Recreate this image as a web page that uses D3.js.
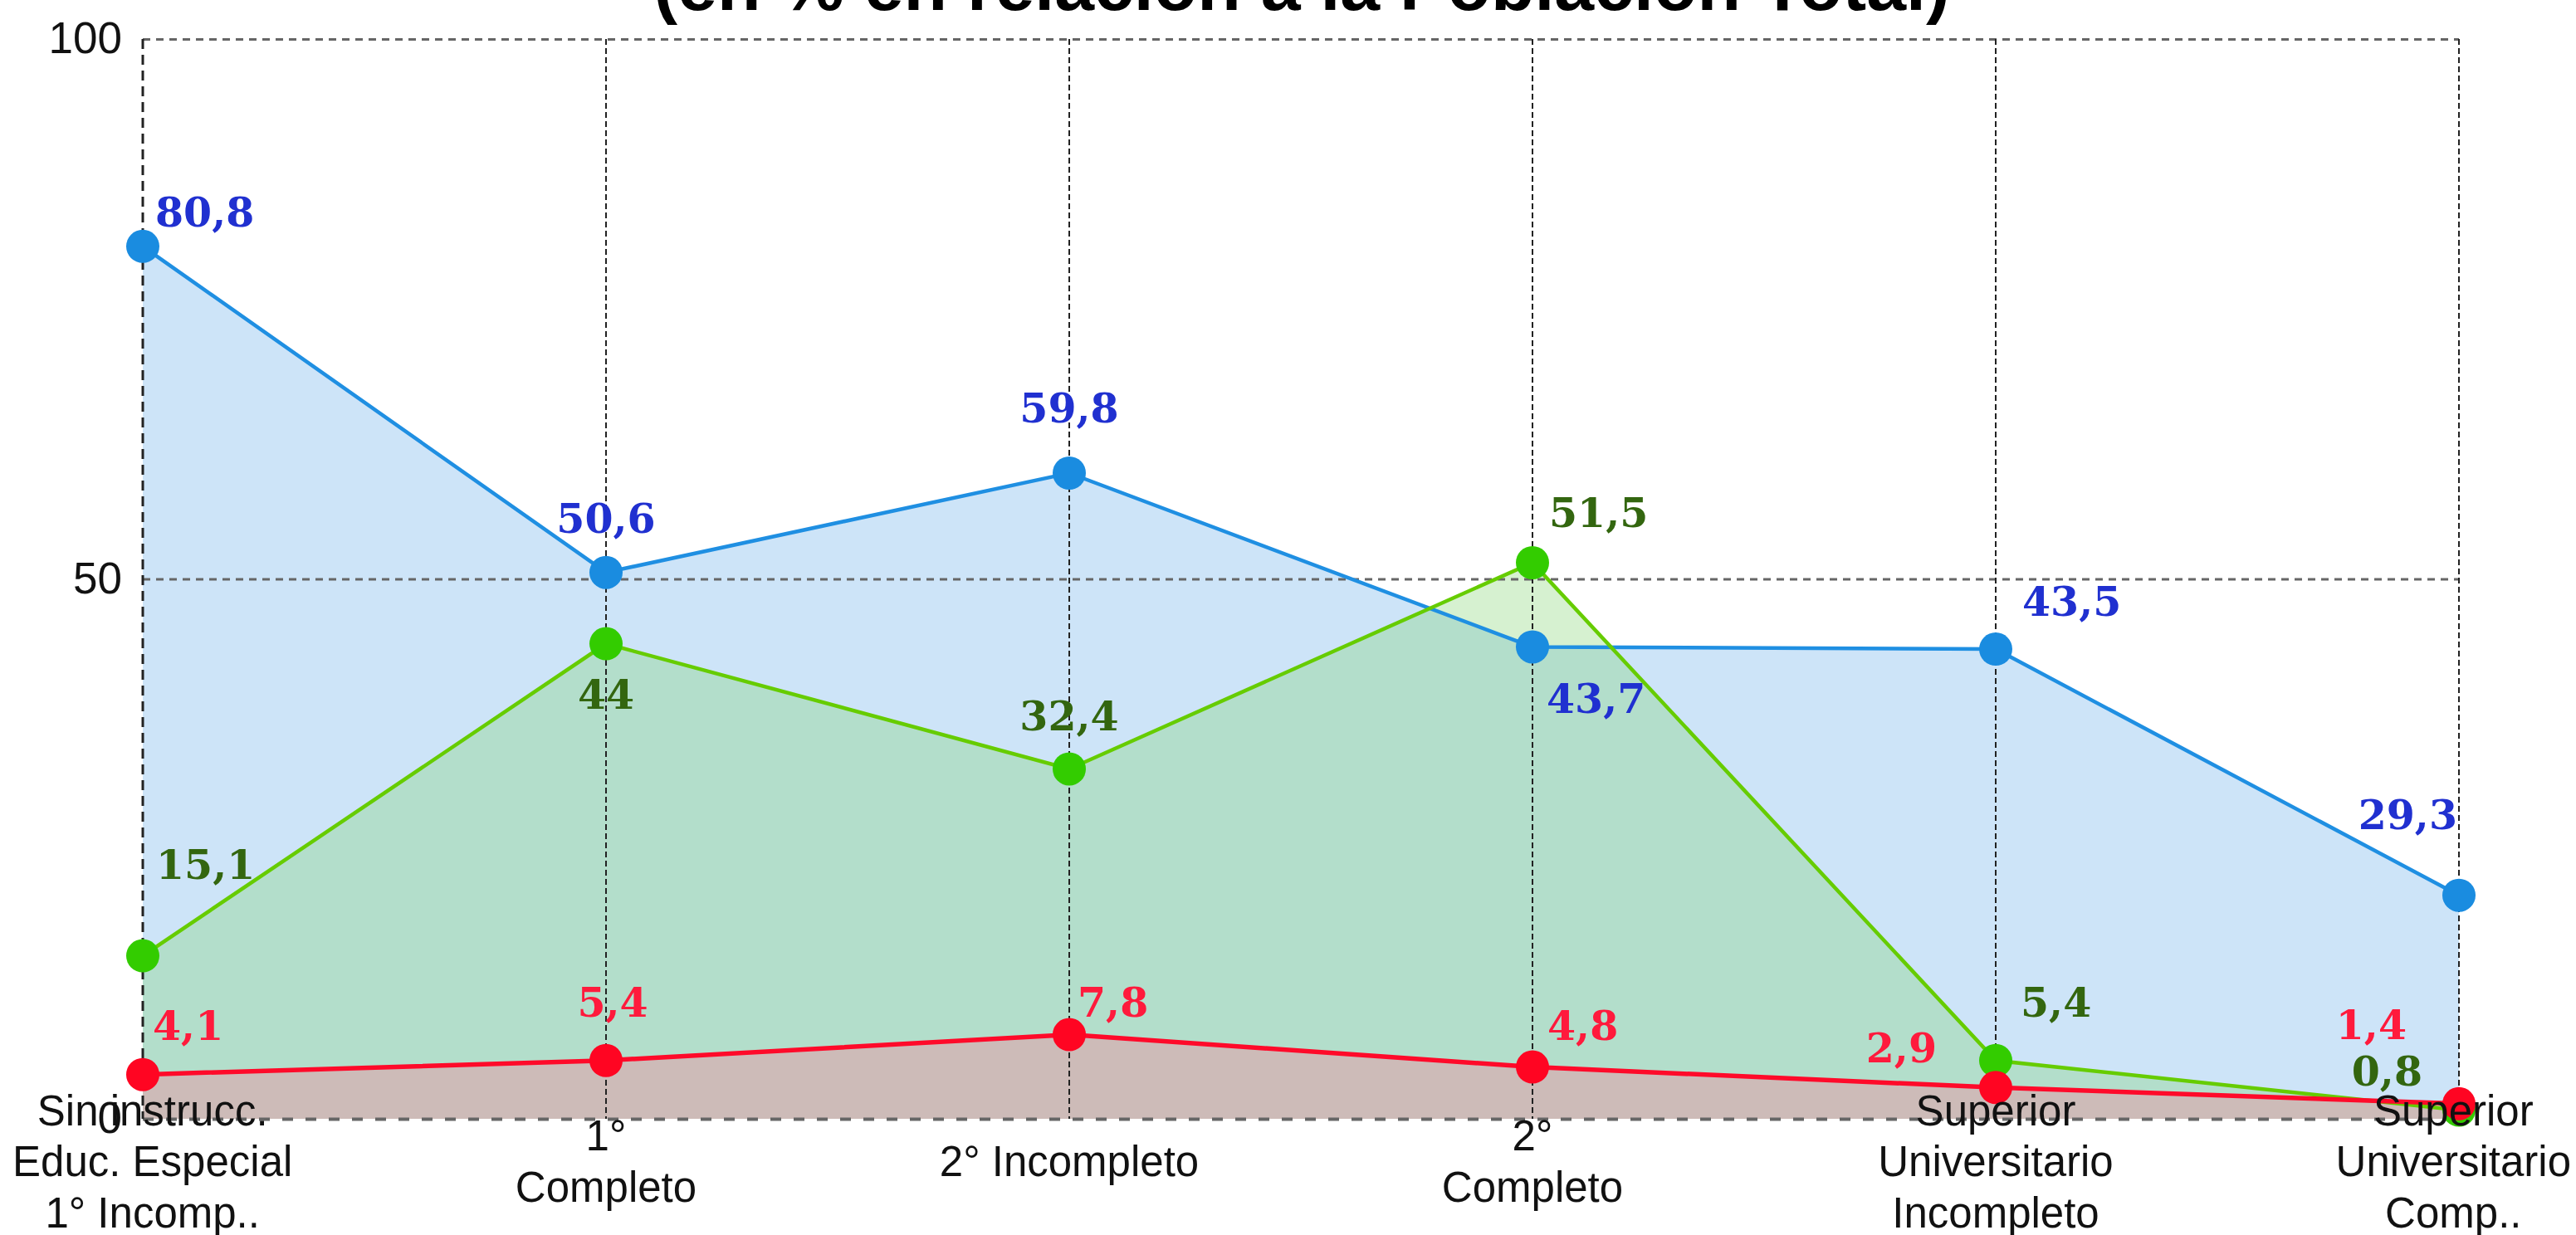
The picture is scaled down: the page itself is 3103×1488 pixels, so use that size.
<!DOCTYPE html>
<html>
<head>
<meta charset="utf-8">
<script src="https://cdn.jsdelivr.net/npm/d3@7/dist/d3.min.js"></script>
<style>
  html, body { margin: 0; padding: 0; background: #fff; }
  svg { display: block; }
  .tick-lbl { font-family: "Liberation Sans", Arial, sans-serif; font-size: 51px; fill: #111; }
  .val-lbl { font-family: "DejaVu Serif", serif; font-size: 49px; font-weight: bold; }
</style>
</head>
<body>
<div id="chart"></div>
<script>
// categories (lines of each x label)
var categories = ["sin", "p1c", "s2i", "s2c", "sui", "suc"];
var categoryLabels = [
    ["Sin instrucc.", "Educ. Especial", "1° Incomp.."],
    ["1°", "Completo"],
    ["2° Incompleto"],
    ["2°", "Completo"],
    ["Superior", "Universitario", "Incompleto"],
    ["Superior", "Universitario", "Comp.."]
];
// series values as plotted, and the texts printed next to them
var blueValues  = [80.8, 50.6, 59.8, 43.7, 43.5, 20.7];
var blueLabels  = ["80,8", "50,6", "59,8", "43,7", "43,5", "29,3"];
var greenValues = [15.1, 44, 32.4, 51.5, 5.4, 0.8];
var greenLabels = ["15,1", "44", "32,4", "51,5", "5,4", "0,8"];
var redValues   = [4.1, 5.4, 7.8, 4.8, 2.9, 1.4];
var redLabels   = ["4,1", "5,4", "7,8", "4,8", "2,9", "1,4"];
var yTicks = [0, 50, 100];
var title = "(en % en relación a la Población Total)";

// label placement relative to each point [dx, dy, anchor]
var bluePlace  = [[15,-24,"start"],[0,-48,"middle"],[0,-61,"middle"],[17,80,"start"],[32,-40,"start"],[-2,-80,"end"]];
var greenPlace = [[16,-93,"start"],[0,78,"middle"],[0,-46,"middle"],[20,-43,"start"],[30,-53,"start"],[-44,-30,"end"]];
var redPlace   = [[12,-42,"start"],[8,-53,"middle"],[10,-22,"start"],[18,-33,"start"],[-71,-30,"end"],[-63,-78,"end"]];

var W = 3103, H = 1488;
var mLeft = 172, mRight = 2962, mTop = 47, mBottom = 1348;

var svg = d3.select("#chart").append("svg").attr("width", W).attr("height", H);

var x = d3.scalePoint().domain(categories).range([mLeft, mRight]);
var y = d3.scaleLinear().domain([0, 100]).range([mBottom, mTop]);

// title, mostly cut off at the top
svg.append("text")
    .attr("x", 1568).attr("y", 12)
    .attr("text-anchor", "middle")
    .style("font-family", "'Liberation Sans', Arial, sans-serif")
    .style("font-weight", "bold")
    .style("font-size", "86px")
    .attr("fill", "#000")
    .text(title);

var series = [
    {vals: blueValues,  labels: blueLabels,  place: bluePlace,
     fill: "rgba(40,140,225,0.23)", line: "#1f8fe2", dot: "#1a8ce0", text: "#2030d0", w: 4.5},
    {vals: greenValues, labels: greenLabels, place: greenPlace,
     fill: "rgba(120,210,100,0.30)", line: "#66cc00", dot: "#33cc00", text: "#33660f", w: 4.5},
    {vals: redValues,   labels: redLabels,   place: redPlace,
     fill: "rgba(255,123,150,0.35)", line: "#ff0a2a", dot: "#ff0522", text: "#ff1a3c", w: 5.5}
];

var area = d3.area()
    .x(function(d, i){ return x(categories[i]); })
    .y0(y(0))
    .y1(function(d){ return y(d); });
var line = d3.line()
    .x(function(d, i){ return x(categories[i]); })
    .y(function(d){ return y(d); });

// areas
series.forEach(function(s){
    svg.append("path").attr("d", area(s.vals)).attr("fill", s.fill);
});

// grid: horizontal lines
var gy = svg.append("g").attr("transform", "translate(" + mLeft + ",0)")
    .call(d3.axisLeft(y).tickValues(yTicks).tickSize(-(mRight - mLeft)).tickPadding(25).tickFormat(d3.format("d")));
gy.select(".domain").remove();
gy.selectAll(".tick line")
    .attr("stroke", "#666")
    .attr("stroke-width", function(d){ return d === 0 ? 4 : 3; })
    .attr("stroke-dasharray", function(d){ return d === 0 ? "13,15" : "9,7"; });
gy.selectAll(".tick text").attr("class", "tick-lbl").attr("fill", "#111").style("font-size", "53px");

// grid: vertical lines
var gx = svg.append("g");
gx.selectAll("line").data(categories).enter().append("line")
    .attr("x1", function(d){ return x(d); }).attr("x2", function(d){ return x(d); })
    .attr("y1", y(100)).attr("y2", y(0))
    .attr("stroke", "#222")
    .attr("stroke-width", function(d, i){ return i === 0 ? 3 : 2; })
    .attr("stroke-dasharray", function(d, i){ return i === 0 ? "12,7" : "7,4"; });

// lines, points, labels
series.forEach(function(s){
    svg.append("path").attr("d", line(s.vals)).attr("fill", "none")
        .attr("stroke", s.line).attr("stroke-width", s.w);
});
series.forEach(function(s){
    svg.append("g").selectAll("circle").data(s.vals).enter().append("circle")
        .attr("cx", function(d, i){ return x(categories[i]); })
        .attr("cy", function(d){ return y(d); })
        .attr("r", 20)
        .attr("fill", s.dot);
});
series.forEach(function(s){
    svg.append("g").selectAll("text").data(s.vals).enter().append("text")
        .attr("class", "val-lbl")
        .attr("x", function(d, i){ return x(categories[i]) + s.place[i][0]; })
        .attr("y", function(d, i){ return y(d) + s.place[i][1]; })
        .attr("text-anchor", function(d, i){ return s.place[i][2]; })
        .attr("fill", s.text)
        .text(function(d, i){ return s.labels[i]; });
});

// category labels, vertically centred round one baseline
var lineH = 61.5, midBase = 1417;
var cl = svg.append("g").selectAll("text").data(categoryLabels).enter().append("text")
    .attr("class", "tick-lbl")
    .attr("text-anchor", "middle")
    .attr("x", function(d, i){ return x(categories[i]); })
    .attr("y", 0);
cl.each(function(lines, i){
    var t = d3.select(this);
    lines.forEach(function(l, j){
        t.append("tspan")
            .attr("x", x(categories[i]))
            .attr("y", midBase + (j - (lines.length - 1) / 2) * lineH)
            .text(l);
    });
    // keep inside the picture
    var bb = this.getBBox(), shift = 0;
    if (bb.x < 15) shift = 15 - bb.x;
    if (bb.x + bb.width > W - 6) shift = (W - 6) - (bb.x + bb.width);
    if (shift) t.selectAll("tspan").attr("x", x(categories[i]) + shift);
});
</script>
</body>
</html>
